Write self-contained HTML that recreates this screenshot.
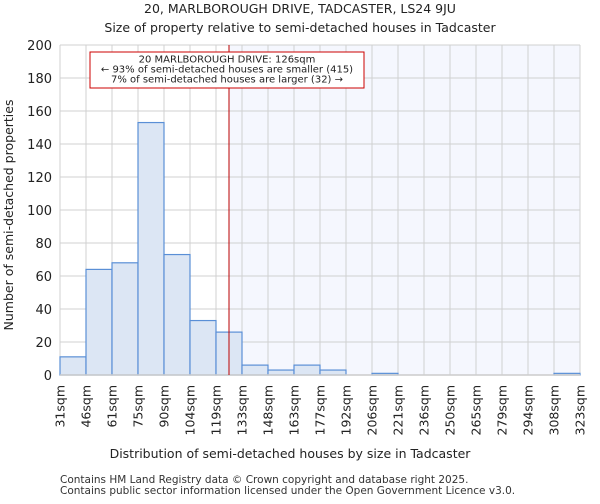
<!DOCTYPE html>
<html><head><meta charset="utf-8"><style>
body{margin:0;background:#fff;font-family:"DejaVu Sans","Liberation Sans",sans-serif;}
</style></head><body>
<svg width="600" height="500" xmlns="http://www.w3.org/2000/svg" font-family="DejaVu Sans, Liberation Sans, sans-serif">
<text x="300" y="13" text-anchor="middle" font-size="12.5" fill="#222">20, MARLBOROUGH DRIVE, TADCASTER, LS24 9JU</text>
<text x="300" y="32" text-anchor="middle" font-size="12.5" fill="#222">Size of property relative to semi-detached houses in Tadcaster</text>
<g id="plot"></g>
<text x="290" y="458" text-anchor="middle" font-size="12.5" fill="#222">Distribution of semi-detached houses by size in Tadcaster</text>
<text transform="translate(13,215) rotate(-90)" text-anchor="middle" font-size="12.5" fill="#222">Number of semi-detached properties</text>
<text x="60" y="483" font-size="10.5" fill="#333">Contains HM Land Registry data © Crown copyright and database right 2025.</text>
<text x="60" y="494" font-size="10.5" fill="#333">Contains public sector information licensed under the Open Government Licence v3.0.</text>
</svg>
<script>
const binLabels=["31sqm","46sqm","61sqm","75sqm","90sqm","104sqm","119sqm","133sqm","148sqm","163sqm","177sqm","192sqm","206sqm","221sqm","236sqm","250sqm","265sqm","279sqm","294sqm","308sqm","323sqm"];
const binEdges=[31,46,61,75,90,104,119,133,148,163,177,192,206,221,236,250,265,279,294,308,323];
const counts=[11,64,68,153,73,33,26,6,3,6,3,0,1,0,0,0,0,0,0,1];
const yTicks=[0,20,40,60,80,100,120,140,160,180,200];
const propertySize=126;
const L=60,R=580,T=45,B=375,yMax=200;
const nb=counts.length;
const xi=i=>L+(R-L)*i/nb;
const xv=v=>{for(let i=0;i<nb;i++){if(v<=binEdges[i+1])return xi(i)+(v-binEdges[i])/(binEdges[i+1]-binEdges[i])*(xi(i+1)-xi(i));}return R;};
const y=v=>B-(B-T)*v/yMax;
const NS="http://www.w3.org/2000/svg";
const g=document.getElementById('plot');
function mk(t,a){const e=document.createElementNS(NS,t);for(const k in a)e.setAttribute(k,a[k]);g.appendChild(e);return e;}
const px=xv(propertySize);
let e=mk('rect',{x:px,y:T,width:R-px,height:B-T,fill:'#f5f7fe'});


yTicks.forEach(t=>{
 const l=mk('line',{x1:L,x2:R,y1:y(t),y2:y(t),stroke:'#d0d0d0','stroke-width':1});
 
 
 const tx=mk('text',{x:L-8,y:y(t)+5,'text-anchor':'end','font-size':13,fill:'#222'});
 tx.textContent=t;
 
 
});
binLabels.forEach((lab,i)=>{
 const l=mk('line',{x1:xi(i),x2:xi(i),y1:T,y2:B,stroke:'#d0d0d0','stroke-width':1});
 
 
 const tx=mk('text',{transform:`translate(${xi(i)+4.5},${B+10}) rotate(-90)`,'text-anchor':'end','font-size':12.5,fill:'#222'});
 tx.textContent=lab;
 
 
});
counts.forEach((c,i)=>{
 if(c<=0)return;
 const r=mk('rect',{x:xi(i),y:y(c),width:xi(i+1)-xi(i),height:B-y(c),fill:'#dce6f4',stroke:'#5a8fd6','stroke-width':1.2});
 
 
});
const ax=mk('line',{x1:L,x2:R,y1:B,y2:B,stroke:'#cccccc','stroke-width':1.5});


const pl=mk('line',{x1:px,x2:px,y1:T,y2:B,stroke:'#bb0000','stroke-width':1});


const box=mk('rect',{x:90,y:52,width:274,height:36,fill:'#fff',stroke:'#cc0000','stroke-width':1});


["20 MARLBOROUGH DRIVE: 126sqm","← 93% of semi-detached houses are smaller (415)","7% of semi-detached houses are larger (32) →"].forEach((s,i)=>{
 const t=mk('text',{x:227,y:62.5+i*10,'text-anchor':'middle','font-size':10,fill:'#222'});
 t.textContent=s;
 
 
});
</script>
</body></html>
